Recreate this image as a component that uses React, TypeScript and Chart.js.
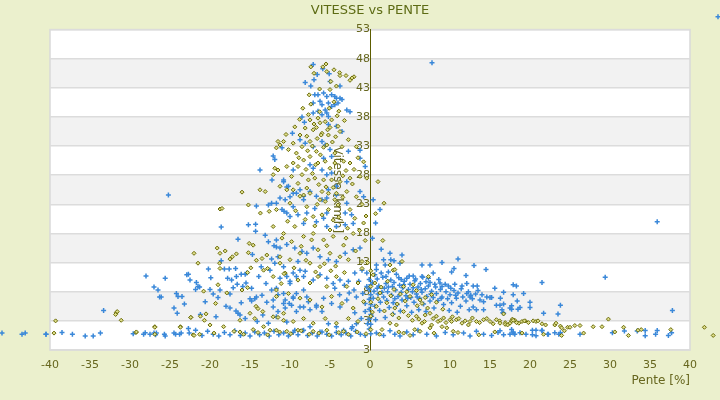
import React, { useEffect, useRef } from 'react';
import { Chart, registerables } from 'chart.js';

Chart.register(...registerables);

// [pente %, vitesse km/h]
const blueLeft: [number, number][] = [
  [-46, 0.9], [-43.5, 0.7], [-43.1, 0.9], [-40.5, 0.7], [-38.5, 1.0], [-37.2, 0.7], [-35.6, 0.4], [-34.6, 0.4], [-33.7, 0.9], [-33.3, 4.8],
  [-29.6, 0.8], [-28.3, 0.7], [-28.1, 0.95], [-27.5, 0.7], [-27, 0.9], [-26.7, 0.9], [-26.8, 0.6], [-25.7, 0.7], [-25.6, 0.4], [-24.5, 0.9],
  [-24.3, 0.7], [-23.8, 0.7], [-23.6, 0.9], [-22.7, 1.7], [-22.6, 0.9], [-21.8, 1.4],
  [-28, 10.7], [-27, 8.8], [-26.5, 8.3], [-26.3, 7.1], [-26.1, 7.1], [-25.6, 10.3], [-24.5, 5.2], [-24.1, 4.3], [-24.2, 7.7], [-24, 7.2],
  [-23.5, 7.2], [-22.9, 10.9], [-22.7, 11.0], [-22.5, 10.0], [-21.7, 9.6], [-21.8, 8.4], [-21.5, 8.9], [-21.3, 8.8],
  [-25.2, 24.6], [-18.6, 19.1], [-16.5, 17.0], [-15.2, 19.5], [-14.3, 19.6], [-14.3, 18.4], [-14.2, 22.7],
  [-20.2, 11.9], [-21.2, 4.1], [-19.25, 3.7], [-20, 8.4], [-19.6, 7.6], [-18.75, 8.3], [-19, 7.0],
  [-17.5, 5.2], [-17.5, 7.6], [-17.1, 8.7], [-16.6, 9.3], [-15.9, 8.9], [-15.5, 9.5], [-18.6, 13.3], [-18.2, 11.9], [-17.6, 11.9], [-16.8, 12.0],
  [-17.8, 10.3], [-17.3, 10.0], [-16.7, 10.6], [-16.1, 11.0], [-15.6, 11.0], [-15.4, 11.2], [-16.75, 4.7], [-16.5, 4.3], [-16.25, 4.0], [-15.6, 3.4],
  [-15, 6.8], [-14.8, 6.4], [-14.4, 6.8], [-14.2, 7.1], [-13.5, 7.4], [-13.1, 17.7], [-12.7, 16.6],
  [-14.7, 14.4], [-13.6, 12.3], [-13.0, 9.4], [-13.9, 10.6], [-14.8, 8.6], [-12.9, 6.2], [-13.4, 4.0], [-12.7, 2.6], [-14.1, 2.9], [-16.1, 6.1],
  [-18.0, 5.5], [-19.9, 10.4], [-23.2, 5.9], [-20.6, 6.3],
  [-21, 0.5], [-20.3, 1.2], [-19.6, 0.7], [-18.9, 0.4], [-18.2, 1.0], [-17.5, 0.6], [-16.9, 1.3], [-16.2, 0.5], [-15.6, 0.9], [-15.0, 0.4],
  [-14.4, 1.1], [-13.8, 0.6], [-13.2, 0.9], [-12.6, 0.4], [-12.0, 1.2],
];

const bluePeak: [number, number][] = [
  [-12, 15.9], [-11.7, 15.7], [-11.25, 15.5], [-12.7, 22.9], [-12.3, 23.2], [-11.7, 23.2], [-11, 22.1], [-10.75, 21.8], [-10.4, 21.5],
  [-12.3, 13.6], [-11.9, 12.9], [-11.5, 14.0], [-10.8, 12.3], [-10.4, 10.6], [-10, 9.4], [-9.6, 11.2], [-9.0, 13.2], [-8.75, 11.7], [-8.3, 10.6],
  [-12.3, 8.3], [-11.7, 8.6], [-11.5, 7.5], [-10.8, 7.7], [-10.6, 6.6], [-10.1, 6.0], [-9.6, 6.9], [-9.2, 7.7], [-8.3, 8.3], [-7.9, 7.1],
  [-12.1, 5.4], [-11.5, 4.6], [-10.6, 5.2], [-9.8, 5.7], [-9.2, 4.6], [-8.3, 5.4], [-7.5, 4.9], [-6.7, 5.4], [-6.0, 4.6],
  [-10.8, 26.9], [-10.4, 26.0], [-10, 24.3], [-9.6, 22.6], [-9.2, 24.9], [-8.3, 23.8], [-7.9, 21.5], [-6.9, 22.3], [-6.0, 23.8], [-5.4, 21.5], [-5.2, 25.5],
  [-7.1, 47.0], [-6.6, 45.3], [-7.0, 44.4], [-5.9, 46.3], [-5.1, 45.4], [-8.1, 43.9], [-7.4, 43.3], [-5, 44.1], [-3.75, 43.3],
  [-6.9, 41.8], [-6.5, 41.8], [-5.8, 42.1], [-5.4, 41.5], [-4.8, 41.8], [-4.4, 41.5], [-4.2, 41.2], [-3.75, 41.2], [-3.5, 41.0],
  [-7.1, 40.4], [-6.25, 40.7], [-6.0, 40.1], [-5.2, 40.4], [-4.8, 39.8], [-4.4, 40.1], [-4.0, 40.4], [-2.9, 39.2], [-2.5, 38.9],
  [-7.1, 38.7], [-6.5, 39.0], [-6.0, 38.4], [-5.4, 38.7], [-5.2, 38.1], [-5.6, 39.2], [-8.5, 38.0], [-8.2, 37.1], [-5.2, 36.7], [-4.2, 36.4], [-3.5, 35.5],
  [-9.7, 35.2], [-8.75, 34.1], [-8.1, 33.5], [-7.1, 32.9], [-6.0, 33.8], [-5.6, 33.2], [-5, 32.4], [-4.8, 31.2], [-5.8, 30.9], [-12.1, 31.3], [-11, 32.7],
  [-2.7, 32.1], [-1.25, 32.3], [-1.25, 30.9], [-0.6, 29.5], [-7.5, 29.8], [-7.1, 29.2], [-6, 28.9], [-5.4, 28.1], [-4.8, 28.4], [-9.6, 28.9],
  [-10.8, 27.2], [-10.2, 26.1], [-8.75, 25.5], [-13.75, 28.9], [-2.9, 26.9], [-4.2, 26.1], [-1.25, 25.2], [-0.8, 24.3],
  [-11.9, 30.7], [-12.25, 27.2],
  [-11.25, 24.1], [-10.6, 23.8], [-9.6, 24.9], [-8.3, 24.4], [-7.5, 25.2], [-6.7, 24.4], [-5.4, 24.1], [-4.2, 24.6], [-2.9, 23.2], [-2.3, 21.2], [-3.1, 21.5],
  [-10, 20.9], [-9, 21.2], [-8.3, 19.7], [-6.7, 20.0], [-5.8, 20.6], [-5.4, 19.2], [-4.2, 19.2], [-3.1, 19.5], [-2.1, 19.7],
  [-11.7, 16.9], [-10.4, 16.1], [-9.4, 15.5], [-8.5, 14.9], [-7.9, 14.6], [-7.1, 15.5], [-6.25, 14.0], [-5.2, 13.5], [-4.2, 13.2], [-3.1, 14.6], [-2.1, 15.2], [-1.25, 15.5],
  [-12.5, 11.7], [-11.25, 10.3], [-10, 9.8], [-9.2, 10.6], [-8.1, 11.5], [-7.1, 10.0], [-6.25, 10.9], [-5.4, 10.3], [-4.6, 9.4], [-3.75, 10.0], [-2.7, 9.8], [-1.9, 11.2], [-1.0, 11.7], [-0.4, 11.2],
  [-12.1, 6.6], [-10.8, 6.0], [-9.6, 7.1], [-8.75, 5.4], [-7.7, 6.3], [-6.7, 5.7], [-5.8, 6.9], [-4.8, 6.0], [-3.75, 5.4], [-2.9, 6.6], [-1.7, 7.1], [-0.6, 6.0],
  [-11.7, 3.7], [-10.4, 2.8], [-9.4, 1.4], [-8.3, 1.4], [-7.5, 2.0], [-6.25, 1.1], [-5.2, 2.5], [-4.2, 2.0], [-3.3, 1.4], [-2.3, 1.7], [-1.7, 2.5],
  [-0.4, 8.9], [-0.9, 7.7], [-1.4, 9.8], [-2.0, 8.3], [-0.6, 4.6], [-1.1, 3.4], [-1.9, 4.4], [-2.6, 7.8], [-3.2, 9.1], [-3.8, 7.5], [-4.4, 8.6], [-0.3, 2.5], [-2.2, 2.0],
  [-11.4, 0.6], [-10.8, 0.9], [-10.2, 0.4], [-9.6, 1.0], [-9.0, 0.6], [-8.4, 1.3], [-7.8, 0.5], [-7.2, 0.9], [-6.6, 0.4], [-6.0, 1.1],
  [-5.4, 0.7], [-4.8, 0.4], [-4.2, 1.0], [-3.6, 0.6], [-3.0, 0.9], [-2.4, 0.4], [-1.8, 1.2], [-1.2, 0.7], [-0.6, 0.5],
  [-0.1, 10.1], [0.1, 9.2], [-0.1, 8.4], [0.1, 7.5], [-0.1, 6.7], [0.1, 5.8], [-0.1, 5.0], [0.1, 4.1], [-0.1, 3.3], [0.1, 2.4], [-0.1, 1.6], [0.1, 0.8],
];

const blueRight: [number, number][] = [
  [0.4, 23.8], [1.25, 22.1], [0.3, 17.2], [0.7, 19.8], [1.7, 13.5], [2.6, 13.5], [3.75, 12.9], [4.6, 10.3], [1.4, 15.3], [2.5, 14.6],
  [0.8, 12.6], [1.9, 12.6], [6.5, 12.6], [7.5, 12.6], [5.4, 10.7], [6.5, 10.6], [10.2, 11.4], [7.3, 10.3], [7.5, 9.6], [8.75, 9.5],
  [9, 8.9], [9.8, 9.0], [10.6, 9.3], [11.5, 9.0], [12.9, 9.0], [13.4, 9.0],
  [17.9, 9.2], [18.3, 9.0], [16.7, 7.9], [17.9, 7.5], [15, 7.0], [15.2, 7.0], [15.8, 5.7], [16.25, 5.7], [16.5, 4.9], [17.5, 5.2], [16.7, 4.3],
  [13.75, 6.6], [14.2, 6.3], [14.6, 7.1], [12.1, 7.7], [12.5, 7.1], [12.9, 5.4], [13.3, 4.9], [14.2, 4.9],
  [18.4, 6.4], [20, 6.2], [16.7, 5.9], [17.7, 5.6], [18.5, 5.0], [17.7, 5.0], [18.75, 5.3], [20, 5.3], [16.6, 4.4], [21.5, 9.6],
  [21.7, 4.3], [23.5, 4.2], [23.8, 5.7], [29.4, 10.5], [37.8, 4.8], [35.9, 20.0], [7.75, 47.3], [43.5, 55.2],
  [13, 12.5], [11, 13.6], [14.5, 11.8], [12, 10.8], [10.5, 12.0], [9, 13.0], [4, 14.3], [3, 13.3],
  [0.3, 9.6], [0.5, 8.1], [0.4, 6.9], [0.6, 5.5], [0.9, 10.2], [1.1, 9.0], [1.0, 7.6], [1.3, 6.2], [1.2, 4.8], [1.6, 10.5],
  [1.8, 8.6], [1.7, 7.1], [2.0, 9.4], [2.2, 8.0], [2.1, 6.5], [2.4, 5.3], [2.6, 10.0], [2.8, 8.9], [2.7, 7.4], [3.0, 9.6],
  [3.2, 8.3], [3.1, 6.8], [3.4, 5.8], [3.6, 10.4], [3.7, 9.1], [3.9, 7.9], [4.1, 8.7], [4.0, 6.6], [4.3, 9.8], [4.5, 7.3],
  [4.6, 5.6], [4.8, 8.4], [5.0, 9.3], [5.1, 7.0], [5.3, 8.0], [5.5, 6.2], [5.6, 9.9], [5.8, 7.6], [6.0, 8.8], [6.2, 6.9],
  [6.3, 9.4], [6.5, 7.9], [6.7, 5.9], [6.9, 8.5], [7.1, 7.2], [7.3, 9.0], [7.5, 6.4], [7.7, 8.1], [7.9, 7.0], [8.1, 9.3],
  [8.3, 7.7], [8.5, 6.5], [8.8, 8.4], [9.0, 7.1], [9.2, 5.8], [9.5, 8.0], [9.7, 6.8], [10.0, 7.5], [10.2, 6.1], [10.5, 8.2],
  [10.8, 6.9], [11.0, 7.8], [11.3, 5.5], [11.6, 7.1], [12.0, 6.4], [12.3, 8.0], [12.8, 6.8], [13.2, 7.6], [1.4, 11.2], [0.8, 11.8],
  [2.3, 11.4], [3.3, 11.0], [4.9, 10.7], [6.6, 10.5], [8.6, 10.1], [0.2, 3.8], [0.7, 3.2], [1.9, 3.6], [2.9, 4.2], [3.8, 4.7],
  [5.2, 4.5], [6.1, 4.9], [7.0, 4.6], [8.0, 5.2], [9.9, 4.8], [10.9, 4.5], [12.4, 4.9],
  [0.9, 8.6], [1.5, 7.9], [2.3, 8.8], [2.9, 6.1], [3.5, 7.2], [4.2, 9.2], [4.7, 6.9], [5.4, 8.7], [5.9, 7.1], [6.4, 8.4],
  [7.0, 9.7], [7.6, 7.6], [8.2, 8.8], [8.9, 6.9], [9.4, 9.3], [10.1, 8.6], [10.7, 7.4], [11.4, 8.5], [12.1, 9.4], [12.6, 7.4],
  [13.5, 8.2], [14.0, 7.5], [15.6, 8.6], [16.3, 6.9], [19.2, 7.7], [0.6, 10.9], [2.0, 10.6], [3.9, 10.1], [5.7, 10.2], [7.9, 11.2],
  [0.8, 0.9], [1.7, 0.5], [2.5, 1.3], [3.1, 0.7], [3.75, 0.4], [4.6, 1.1], [5.4, 0.6], [6.0, 1.4], [7.1, 0.7], [8.3, 0.4],
  [9.4, 1.0], [10.4, 0.6], [11.7, 0.9], [12.5, 0.4], [13.3, 1.2], [14.2, 0.7], [15.2, 0.5], [16.0, 1.0], [16.7, 0.6], [17.9, 1.1],
  [16.25, 1.3], [17.7, 1.5], [17.9, 0.9], [17.5, 0.7], [18.1, 0.7], [18.75, 0.95], [19.5, 0.7], [20.3, 1.4], [20.3, 0.6], [20.75, 1.4],
  [20.75, 0.45], [21.5, 1.4], [21.5, 1.3], [22.2, 0.7], [22.3, 0.7], [23.1, 0.95], [23.6, 0.7], [23.8, 0.95], [26.25, 0.7], [30.3, 0.95],
  [31.8, 1.25], [33.4, 1.25], [34.4, 1.35], [34.4, 0.45], [35.7, 0.7], [35.9, 1.35], [37.3, 0.5], [37.7, 0.95],
];

const oliveLeft: [number, number][] = [
  [-16.0, 25.1], [-18.75, 22.2], [-18.5, 22.3], [-15.2, 22.9], [-13.7, 21.5], [-12.6, 21.8], [-22.0, 14.6], [-21.5, 12.9], [-19.1, 15.5],
  [-18.75, 14.6], [-18.8, 12.9], [-18.75, 12.0], [-18.1, 15.0], [-17.5, 13.6], [-17.2, 14.0], [-16.7, 14.5], [-15.2, 14.7], [-15.1, 16.3],
  [-14.6, 16.0], [-14.2, 13.4], [-14.9, 12.1], [-15.3, 11.3], [-13.5, 13.7], [-12.9, 14.3], [-12.8, 12.0], [-13.3, 11.7],
  [-19, 9.2], [-20.8, 8.1], [-19.3, 6.0], [-17.9, 7.8], [-16.0, 8.3], [-15.3, 8.7], [-14.25, 5.5], [-14, 5.1], [-13.4, 4.6],
  [-22.4, 3.6], [-21.2, 3.8], [-20.5, 4.2], [-20, 2.3], [-20.7, 3.1], [-16.25, 3.1], [-15, 4.3], [-14.4, 3.4],
  [-23.7, 2.0], [-26.9, 2.0], [-29.25, 1.0], [-22.1, 0.6], [-18.3, 2.0], [-16.25, 1.1], [-14.6, 1.5], [-13.3, 2.0],
  [-31.7, 4.4], [-31.6, 4.6], [-31.8, 4.1], [-31.1, 3.1], [-39.3, 3.0], [-39.5, 0.9], [-29.2, 1.1], [-26.9, 1.9], [-26.9, 0.7],
  [-23.7, 1.9], [-22.0, 0.5], [-22.4, 3.6], [-21.3, 0.7],
  [-19.5, 0.9], [-17, 1.2], [-15.8, 0.7], [-14, 1.0], [-12.8, 0.6],
];

const olivePeak: [number, number][] = [
  [-5.5, 47.1], [-4.5, 46.1], [-7, 45.5], [-3.8, 45.6], [-2.5, 44.3], [-2, 44.9], [-7.4, 46.6], [-5.9, 46.6], [-5.4, 45.8], [-3.75, 45.1],
  [-3, 45.1], [-2.25, 44.7], [-7.6, 41.8], [-6.3, 42.8], [-5, 42.7], [-4.2, 43.3], [-4.9, 44.1],
  [-7.7, 38.4], [-7.5, 37.5], [-6.5, 37.8], [-6.25, 37.0], [-5.6, 37.2], [-4.8, 37.5], [-4.0, 36.4], [-3.75, 35.5], [-7.1, 35.8], [-6.0, 35.2],
  [-5.2, 34.9], [-7.9, 34.7], [-8.75, 34.9], [-9.6, 33.5], [-8.5, 32.9], [-7.5, 33.8], [-6.7, 32.1], [-5.4, 33.2], [-4.4, 31.8], [-3.5, 32.9],
  [-2.7, 34.1], [-1.7, 32.9], [-8.3, 30.6], [-9.2, 31.8], [-10.2, 32.4], [-11.5, 33.8], [-10.8, 33.8], [-11.25, 33.2], [-11.7, 32.7],
  [-11.9, 29.2], [-12.1, 28.1], [-11.5, 28.9], [-10.4, 29.5], [-9.6, 30.1], [-7.5, 31.2], [-6.5, 30.1], [-5.6, 30.4], [-5.0, 29.2], [-4.4, 30.1],
  [-3.3, 30.4], [-2.5, 30.1], [-9.8, 27.8], [-8.5, 28.1], [-7.7, 27.2], [-6.9, 27.5], [-5.8, 27.2], [-4.8, 27.2], [-3.75, 26.9], [-2.5, 27.5],
  [-1.25, 27.8], [-0.4, 27.5], [-13.75, 25.5], [-13.1, 25.2], [-11.25, 26.1], [-10.4, 25.5], [-9.6, 25.5], [-8.3, 24.6], [-7.5, 24.9], [-6.0, 25.2],
  [-5.2, 24.9], [-4.2, 24.9], [-2.9, 25.2], [-1.7, 24.3],
  [-6.8, 29.8], [-6.2, 31.5], [-5.8, 32.8], [-7.2, 33.0], [-6.6, 34.3], [-5.3, 35.8], [-4.7, 33.7], [-4.3, 34.6], [-8.1, 36.1], [-7.0, 36.8],
  [-6.3, 38.9], [-5.1, 39.5], [-4.5, 40.6], [-3.9, 39.0], [-8.8, 37.6], [-9.4, 36.3], [-10.5, 35.0], [-9.0, 29.5], [-8.0, 29.0], [-7.2, 28.3],
  [-6.4, 26.4], [-5.5, 26.0], [-4.6, 25.9], [-3.4, 27.9], [-2.0, 29.0], [-1.5, 31.0], [-0.8, 30.3],
  [-9.3, 21.9], [-8.1, 20.4], [-6.9, 19.3], [-6.0, 21.2], [-5.0, 18.6], [-3.9, 20.8], [-3.0, 17.2], [-9.8, 16.6], [-8.6, 15.8], [-7.3, 16.9],
  [-6.5, 15.2], [-5.4, 15.9], [-4.3, 12.4], [-3.2, 11.3], [-9.5, 12.1], [-8.0, 13.4], [-6.8, 11.4], [-5.7, 12.8], [-4.9, 11.6], [-10.3, 20.1],
  [-11.0, 17.2], [-9.0, 26.6], [-7.9, 25.8], [-6.6, 23.0], [-5.6, 23.5], [-4.4, 23.8], [-3.4, 24.2], [-8.9, 31.0], [-7.8, 32.2], [-6.1, 34.9],
  [-5.0, 36.2], [-4.1, 38.2], [-3.2, 37.4], [-8.4, 39.5], [-7.4, 40.2], [-6.7, 36.2], [-3.0, 28.8], [-2.2, 26.5], [-1.9, 20.6], [-2.8, 18.9],
  [-11.7, 22.1], [-10, 23.2], [-8.75, 24.4], [-7.9, 22.6], [-7.1, 20.9], [-6.25, 23.8], [-5.2, 22.1], [-4.6, 20.3], [-4.0, 22.9], [-2.5, 22.1],
  [-0.8, 19.8], [-12.1, 19.2], [-10.8, 18.0], [-9.4, 19.2], [-8.3, 17.5], [-7.1, 18.0], [-5.8, 16.9], [-4.6, 17.5], [-3.3, 16.0], [-2.1, 18.0],
  [-11.25, 14.0], [-10, 13.5], [-8.75, 14.6], [-7.5, 12.9], [-6.25, 12.3], [-5.0, 14.6], [-3.75, 14.0], [-2.7, 13.5], [-1.0, 13.2],
  [-12.1, 10.6], [-10.6, 11.2], [-9.0, 10.0], [-7.5, 9.5], [-6.5, 10.6], [-5.4, 8.9], [-4.2, 10.6], [-2.9, 8.9], [-1.5, 9.5],
  [-11.7, 7.2], [-10.2, 7.7], [-8.75, 6.9], [-7.5, 6.6], [-6.0, 5.4], [-4.8, 7.2], [-3.5, 6.0], [-2.1, 5.2], [-0.8, 6.3],
  [-12.1, 3.7], [-10.8, 4.3], [-9.6, 2.9], [-8.3, 3.4], [-7.1, 2.6], [-5.6, 3.4], [-4.2, 2.6], [-2.7, 3.4], [-1.5, 2.9],
  [-12.5, 1.4], [-10.4, 1.2], [-9, 1.4], [-7.1, 1.2], [-5.4, 1.4], [-3.3, 1.2],
  [-11.7, 1.4], [-11.5, 3.6], [-10.8, 3.1], [-11.7, 8.3], [-11.1, 9.4], [-10.75, 11.1], [-11.25, 12.9],
  [-1, 23], [-0.5, 21], [-1.3, 18.5], [-0.6, 16.8], [-1.8, 15], [-0.3, 13], [-1, 12],
  [-11.3, 1.1], [-9.9, 0.8], [-8.6, 1.3], [-7.6, 0.7], [-6.4, 0.9], [-5.1, 0.6], [-3.9, 1.0], [-2.7, 0.7], [-1.6, 1.1], [-0.5, 0.8],
];

const oliveRight: [number, number][] = [
  [1.0, 26.9], [1.75, 23.2], [0.7, 21.4], [1.6, 16.8], [2.9, 11.7],
  [4.0, 13.2], [3.1, 11.8], [2.5, 12.6], [0.4, 10.9], [4.2, 8.9], [5.4, 9.2], [7.3, 10.6], [5.0, 7.2], [6.25, 6.6], [6.5, 6.0],
  [7.7, 7.5], [1.25, 7.8], [2.1, 6.1], [0.8, 5.5], [3.1, 5.2], [4.2, 4.6], [5.8, 3.8], [6.9, 4.0], [7.5, 4.3], [8.3, 3.8],
  [9.2, 3.5], [10, 3.2], [10.8, 3.2], [12.5, 2.9], [13.3, 2.9], [14.2, 3.2], [15, 2.9], [15.8, 3.2], [17.5, 2.6], [18.1, 3.1],
  [2.5, 2.6], [3.3, 2.3], [6.5, 2.6], [7.7, 2.3], [8.5, 2.9], [5.6, 1.5], [6.25, 1.2], [7.5, 1.8], [9.0, 2.0], [10.2, 2.9],
  [11.5, 2.6], [12.3, 2.3], [9.6, 1.8], [1.5, 1.5], [4.2, 0.9], [10.4, 1.2],
  [2.8, 4.1], [3.6, 3.5], [4.8, 3.9], [5.3, 3.1], [6.1, 3.3], [6.8, 2.9], [7.9, 3.4], [8.8, 3.1], [9.5, 2.7], [10.3, 3.7],
  [11.1, 3.4], [11.9, 3.0], [12.8, 3.5], [13.7, 2.7], [14.6, 3.4], [15.4, 2.5], [16.2, 3.0], [16.9, 2.7], [17.8, 3.3], [18.6, 2.6], [19.4, 3.0],
  [0.6, 9.5], [1.4, 8.8], [2.2, 9.8], [3.0, 8.4], [3.8, 7.6], [4.6, 8.0], [5.8, 8.2], [6.9, 7.0], [2.6, 7.3], [1.0, 6.8],
  [4.4, 6.4], [5.9, 5.6], [7.2, 5.2], [8.3, 6.2], [9.1, 5.0], [0.3, 4.5], [1.8, 4.7], [3.4, 5.9],
  [16.25, 2.6], [16.9, 2.4], [17.2, 2.3], [17.7, 3.0], [17.9, 3.1], [18.3, 2.7], [19.0, 2.9], [19.3, 3.0], [19.8, 2.7], [20.4, 3.0],
  [20.75, 2.9], [21.0, 3.0], [21.5, 2.5], [21.95, 2.3], [23.1, 2.3], [23.25, 2.6], [23.8, 2.1], [23.95, 1.8], [24.3, 1.3], [24.7, 1.9],
  [25.0, 1.9], [25.6, 2.2], [26.25, 2.2], [26.7, 0.9], [27.9, 2.0], [29.0, 2.0], [29.8, 3.3], [30.6, 1.1], [31.7, 1.9], [32.3, 0.5],
  [33.5, 1.4], [33.9, 1.5], [37.6, 1.5], [21.7, 0.7], [23.95, 0.5], [41.8, 1.9], [42.9, 0.5], [16.7, 4.2],
  [0.1, 1.5], [0.1, 3.8], [0.1, 6.2], [0.1, 8.9], [0.1, 11.6],
  [1.2, 0.7], [3.6, 1.1], [5.0, 0.5], [8.0, 0.9], [11.0, 1.0], [13.6, 0.6], [15.6, 1.1], [19.0, 0.9],
];

const yTickValues = [-2, 3, 8, 13, 18, 23, 28, 33, 38, 43, 48, 53];
const yTickLabels = ['3', '3', '8', '13', '18', '23', '28', '33', '38', '43', '48', '53'];
const greyBands: [number, number][] = [[3, 8], [13, 18], [23, 28], [33, 38], [43, 48]];

const PAGE_BG = '#ebf0cd';
const OLIVE_TEXT = '#66661e';
const FONT = "'DejaVu Sans', sans-serif";

const toXY = (pts: [number, number][]) => pts.map(([x, y]) => ({ x, y }));

const bandsPlugin = {
  id: 'bands',
  beforeDraw(chart: any) {
    const { ctx, chartArea: a, scales } = chart;
    ctx.save();
    ctx.fillStyle = PAGE_BG;
    ctx.fillRect(0, 0, chart.width, chart.height);
    ctx.fillStyle = '#ffffff';
    ctx.fillRect(a.left, a.top, a.width, a.height);
    ctx.fillStyle = '#f2f2f2';
    greyBands.forEach(([lo, hi]) => {
      const y1 = scales.y.getPixelForValue(hi);
      const y2 = scales.y.getPixelForValue(lo);
      ctx.fillRect(a.left, y1, a.width, y2 - y1);
    });
    ctx.strokeStyle = '#d9d9d9';
    ctx.lineWidth = 1.5;
    ctx.strokeRect(a.left, a.top, a.width, a.height);
    ctx.restore();
  },
};

// Chart.js skips points that lie outside the chart area; draw those elements too
const outsidePointsPlugin = {
  id: 'outsidePoints',
  afterDatasetsDraw(chart: any) {
    const { ctx, chartArea: a } = chart;
    const wide = { left: -1e4, top: -1e4, right: 1e4, bottom: 1e4 };
    for (let i = chart.data.datasets.length - 1; i >= 0; i--) {
      const meta = chart.getDatasetMeta(i);
      meta.data.forEach((el: any) => {
        if (el.x < a.left || el.x > a.right || el.y < a.top || el.y > a.bottom) el.draw(ctx, wide);
      });
    }
  },
};

export default function App() {
  const chartRef = useRef<HTMLCanvasElement>(null);
  const chartInstance = useRef<Chart | null>(null);

  useEffect(() => {
    if (!chartRef.current) return;
    if (chartInstance.current) chartInstance.current.destroy();

    chartInstance.current = new Chart(chartRef.current, {
      type: 'scatter',
      data: {
        datasets: [
          {
            label: 'Olive',
            data: toXY([...oliveLeft, ...olivePeak, ...oliveRight]),
            pointStyle: 'rectRot',
            pointRadius: 2,
            borderWidth: 1,
            borderColor: '#6b6b08',
            backgroundColor: '#dede8a',
            clip: false,
          },
          {
            label: 'Bleu',
            data: toXY([...blueLeft, ...bluePeak, ...blueRight]),
            pointStyle: 'cross',
            pointRadius: 2.5,
            borderWidth: 1.5,
            borderColor: '#3a88d9',
            backgroundColor: '#3a88d9',
            clip: false,
          },
        ],
      },
      options: {
        responsive: true,
        maintainAspectRatio: false,
        animation: false,
        layout: { padding: { left: 50, right: 30, top: 0, bottom: 10 } },
        plugins: {
          legend: { display: false },
          tooltip: { enabled: false },
          title: {
            display: true,
            text: 'VITESSE vs PENTE',
            color: '#5d6b14',
            font: { family: FONT, size: 13, weight: 'normal' },
            padding: { top: 3, bottom: 11 },
          },
        },
        scales: {
          x: {
            type: 'linear',
            min: -40,
            max: 40,
            afterFit: (scale: any) => {
              scale.height = 40;
            },
            ticks: { stepSize: 5, color: OLIVE_TEXT, font: { family: FONT, size: 11 }, padding: 9 },
            grid: { display: false, drawTicks: false },
            border: { display: false },
            title: {
              display: true,
              text: 'Pente [%]',
              align: 'end',
              color: OLIVE_TEXT,
              font: { family: FONT, size: 12 },
              padding: { top: 0, bottom: 2 },
            },
          },
          y: {
            type: 'linear',
            min: -2,
            max: 53,
            position: { x: 0 },
            afterBuildTicks: (scale: any) => {
              scale.ticks = yTickValues.map((value) => ({ value }));
            },
            ticks: {
              color: OLIVE_TEXT,
              font: { family: FONT, size: 11 },
              padding: 4,
              callback: (value: any) => {
                const i = yTickValues.indexOf(Number(value));
                return i >= 0 ? yTickLabels[i] : '';
              },
            },
            grid: { color: '#dcdcdc', lineWidth: 1.5, drawTicks: false },
            border: { display: true, color: '#5c5c00', width: 1 },
            title: {
              display: true,
              text: 'Vitesse [km/h]',
              color: OLIVE_TEXT,
              font: { family: FONT, size: 12 },
            },
          },
        },
      } as any,
      plugins: [bandsPlugin, outsidePointsPlugin],
    });

    return () => {
      if (chartInstance.current) {
        chartInstance.current.destroy();
        chartInstance.current = null;
      }
    };
  }, []);

  return (
    <div style={{ position: 'fixed', left: 0, top: 0, width: 720, height: 400, background: PAGE_BG }}>
      <canvas ref={chartRef}></canvas>
    </div>
  );
}
